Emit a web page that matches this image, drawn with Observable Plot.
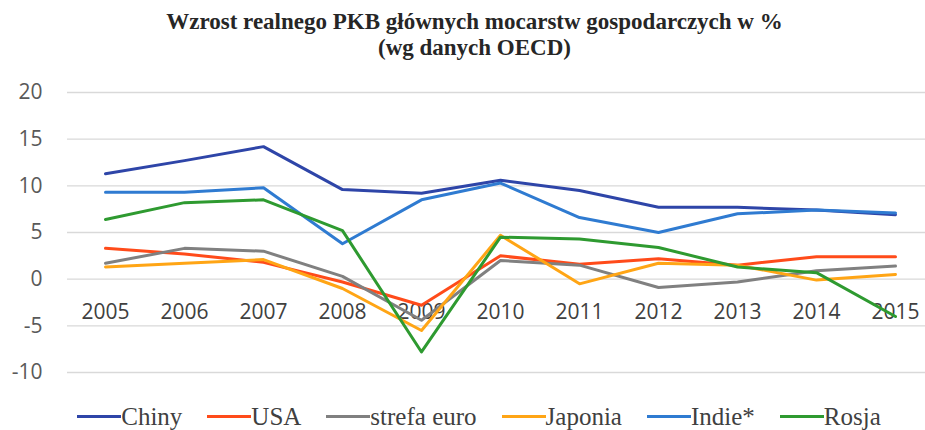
<!DOCTYPE html>
<html>
<head>
<meta charset="utf-8">
<script src="https://cdn.jsdelivr.net/npm/d3@7"></script>
<script src="https://cdn.jsdelivr.net/npm/@observablehq/plot@0.6"></script>
<style>
  html, body { margin: 0; padding: 0; background: #fff; }
  #wrap { width: 925px; height: 430px; position: relative; overflow: hidden; }
  #title { height: 60px; box-sizing: border-box; padding-top: 9px; text-align: center;
    font-family: "Liberation Serif", "DejaVu Serif", serif; font-weight: bold; font-size: 23px;
    line-height: 26px; color: #262626; padding-left: 24px; }
  #legend { height: 27px; display: flex; justify-content: center; align-items: center; gap: 25px;
    font-family: "Liberation Serif", serif; font-size: 25px; color: #404040; padding-left: 33px; box-sizing: border-box; }
  .item { display: flex; align-items: center; }
  .sw { width: 44px; height: 3px; display: inline-block; }
  svg { display: block; }
</style>
</head>
<body>
<div id="wrap">
  <div id="title">Wzrost realnego PKB głównych mocarstw gospodarczych w %<br>(wg danych OECD)</div>
  <div id="chart"></div>
  <div id="legend"></div>
</div>
<script>
const years = [2005, 2006, 2007, 2008, 2009, 2010, 2011, 2012, 2013, 2014, 2015];
const seriesNames = ["Chiny", "USA", "strefa euro", "Japonia", "Indie*", "Rosja"];
const seriesColors = ["#2E45A8", "#FF4B1A", "#808080", "#FFA515", "#2F7BD1", "#2E9A30"];
const chiny   = [11.3, 12.7, 14.2, 9.6, 9.2, 10.6, 9.5, 7.7, 7.7, 7.4, 6.9];
const usa     = [3.3, 2.7, 1.8, -0.3, -2.8, 2.5, 1.6, 2.2, 1.5, 2.4, 2.4];
const strefa  = [1.7, 3.3, 3.0, 0.3, -4.4, 2.0, 1.5, -0.9, -0.3, 0.9, 1.4];
const japonia = [1.3, 1.7, 2.1, -1.0, -5.5, 4.7, -0.5, 1.7, 1.5, -0.1, 0.5];
const indie   = [9.3, 9.3, 9.8, 3.8, 8.5, 10.3, 6.6, 5.0, 7.0, 7.4, 7.1];
const rosja   = [6.4, 8.2, 8.5, 5.2, -7.8, 4.5, 4.3, 3.4, 1.3, 0.7, -4.0];
const yTicks = [-10, -5, 0, 5, 10, 15, 20];

const seriesValues = [chiny, usa, strefa, japonia, indie, rosja];
const data = [];
seriesNames.forEach((name, i) => {
  years.forEach((yr, j) => data.push({series: name, year: yr, value: seriesValues[i][j]}));
});

const plot = Plot.plot({
  width: 925,
  height: 343,
  marginLeft: 67,
  marginRight: 0,
  marginTop: 32,
  marginBottom: 31,
  style: {fontFamily: "'Open Sans', sans-serif", fontSize: "21px", color: "#595959", background: "#fff"},
  x: {type: "point", domain: years, range: [105, 895], padding: 0},
  y: {domain: [-10, 20]},
  color: {domain: seriesNames, range: seriesColors},
  marks: [
    Plot.ruleY(yTicks, {stroke: "#d9d9d9", strokeWidth: 1.3}),
    Plot.axisY({ticks: yTicks, tickSize: 0, tickPadding: 25, label: null, fill: "#595959", fontSize: 21, tickFormat: d => String(d)}),
    Plot.axisX({anchor: "bottom", tickSize: 0, tickPadding: 0, dy: -68, label: null, fill: "#404040", fontSize: 21, tickFormat: d => String(d)}),
    Plot.line(data, {x: "year", y: "value", z: "series", stroke: "series", strokeWidth: 3, strokeLinejoin: "round", strokeLinecap: "round"})
  ]
});
document.getElementById("chart").appendChild(plot);

const legend = document.getElementById("legend");
seriesNames.forEach((name, i) => {
  const it = document.createElement("div");
  it.className = "item";
  const sw = document.createElement("span");
  sw.className = "sw";
  sw.style.background = seriesColors[i];
  const tx = document.createElement("span");
  tx.textContent = name;
  it.appendChild(sw);
  it.appendChild(tx);
  legend.appendChild(it);
});
</script>
</body>
</html>
